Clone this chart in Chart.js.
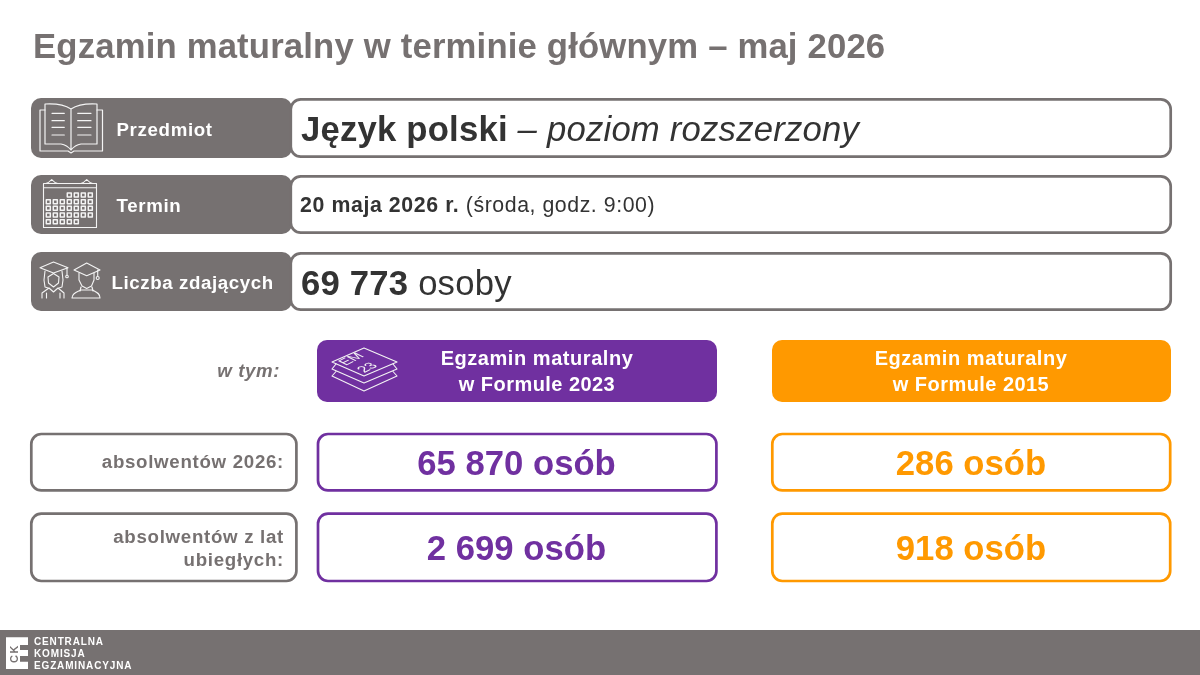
<!DOCTYPE html>
<html lang="pl"><head><meta charset="utf-8">
<style>html,body{margin:0;padding:0;background:#fff}canvas{display:block}</style>
<script src="https://cdn.jsdelivr.net/npm/chart.js@4"></script></head>
<body><canvas id="c" width="1200" height="675"></canvas>
<script>
const title = "Egzamin maturalny w terminie głównym – maj 2026";
const rowLabels = ["Przedmiot", "Termin", "Liczba zdających"];
const subjectBold = "Język polski";
const subjectRest = " – poziom rozszerzony";
const dateBold = "20 maja 2026 r.";
const dateRest = " (środa, godz. 9:00)";
const totalTakers = [69773];
const totalUnit = " osoby";
const withinLabel = "w tym:";
const formulas = [["Egzamin maturalny", "w Formule 2023"], ["Egzamin maturalny", "w Formule 2015"]];
const groupLabels = [["absolwentów 2026:"], ["absolwentów z lat", "ubiegłych:"]];
const formula2023 = [65870, 2699];
const formula2015 = [286, 918];
const unit = " osób";
const logoLines = ["CENTRALNA", "KOMISJA", "EGZAMINACYJNA"];
const logoMark = "CK";

const GRAY = "#767171", PURPLE = "#7030A0", ORANGE = "#FF9900", DARK = "#333333", ICON = "#f4f4f4";
const FONT = '"Liberation Sans", Arial, sans-serif';
const fmt = n => String(n).replace(/\B(?=(\d{3})+$)/g, " ");

const slide = {
  id: "slide",
  afterDraw(chart) {
    const g = chart.ctx, X = v => chart.scales.x.getPixelForValue(v), Y = v => chart.scales.y.getPixelForValue(v);
    const box = (x0, y0, x1, y1, r, fill, stroke, lw) => {
      g.beginPath(); g.roundRect(X(x0), Y(y0), X(x1) - X(x0), Y(y1) - Y(y0), r);
      if (fill) { g.fillStyle = fill; g.fill(); }
      if (stroke) { g.strokeStyle = stroke; g.lineWidth = lw || 2.7; g.stroke(); }
    };
    const text = (s, x, y, font, color, align, sp) => {
      g.font = font + " " + FONT; g.fillStyle = color; g.textAlign = align || "left"; g.textBaseline = "alphabetic";
      g.letterSpacing = sp || "0px"; g.fillText(s, X(x), Y(y));
      const w = g.measureText(s).width; g.letterSpacing = "0px"; return w;
    };
    const line = (pts, close) => {
      g.beginPath(); pts.forEach((p, i) => i ? g.lineTo(X(p[0]), Y(p[1])) : g.moveTo(X(p[0]), Y(p[1])));
      if (close) g.closePath(); g.stroke();
    };
    const d = chart.data.datasets;
    const [f23, f15, tot] = [d[0].data, d[1].data, d[2].data];

    text(title, 33, 58, "bold 34.7px", GRAY, "left", "0.17px");

    // top rows
    [[98, 158], [175, 234], [252, 311]].forEach(([a, b]) => {
      box(31, a, 292, b, 10, GRAY);
      box(290.8, a + 1.3, 1170.7, b - 1.3, 10, "#fff", GRAY);
    });
    text(rowLabels[0], 116.5, 136, "bold 18.7px", "#fff", "left", "0.65px");
    text(rowLabels[1], 116.5, 212, "bold 18.7px", "#fff", "left", "0.65px");
    text(rowLabels[2], 111.5, 288.5, "bold 18.7px", "#fff", "left", "0.6px");

    let w = text(subjectBold, 301, 141, "bold 34.7px", DARK, "left", "0.2px");
    text(subjectRest, 301 + w, 141, "italic 34.7px", DARK, "left", "0.2px");
    w = text(dateBold, 300, 212, "bold 21.3px", DARK, "left", "0.6px");
    text(dateRest, 300 + w, 212, "21.3px", DARK, "left", "0.55px");
    w = text(fmt(tot[0]), 301, 295, "bold 34.7px", DARK, "left", "0.2px");
    text(totalUnit, 301 + w, 295, "34.7px", DARK, "left", "0.2px");

    text(withinLabel, 280, 377, "italic bold 18.7px", GRAY, "right", "0.6px");

    // formula headers
    box(317, 340, 717, 402, 10, PURPLE);
    box(772, 340, 1171, 402, 10, ORANGE);
    text(formulas[0][0], 537, 365, "bold 20px", "#fff", "center", "0.55px");
    text(formulas[0][1], 537, 391, "bold 20px", "#fff", "center", "0.45px");
    text(formulas[1][0], 971, 365, "bold 20px", "#fff", "center", "0.55px");
    text(formulas[1][1], 971, 391, "bold 20px", "#fff", "center", "0.45px");

    // result rows
    [[434, 490.4, 475], [513.7, 581, 560]].forEach(([a, b, base], i) => {
      box(31.3, a, 296.4, b, 10, "#fff", GRAY);
      box(318, a, 716.4, b, 10, "#fff", PURPLE);
      box(772.3, a, 1170.2, b, 10, "#fff", ORANGE);
      text(fmt(f23[i]) + unit, 516.5, base, "bold 34.7px", PURPLE, "center");
      text(fmt(f15[i]) + unit, 971, base, "bold 34.7px", ORANGE, "center");
    });
    text(groupLabels[0][0], 284, 468, "bold 18.7px", GRAY, "right", "0.7px");
    text(groupLabels[1][0], 284, 543, "bold 18.7px", GRAY, "right", "0.7px");
    text(groupLabels[1][1], 284, 566, "bold 18.7px", GRAY, "right", "0.7px");

    // footer
    g.fillStyle = GRAY; g.fillRect(X(0), Y(630), X(1200) - X(0), Y(675) - Y(630));
    g.fillStyle = "#fff";
    g.beginPath();
    [[6,637.3],[28,637.3],[28,645],[20,645],[20,650],[28,650],[28,656],[20,656],[20,661.7],[28,661.7],[28,669],[6,669]]
      .forEach((p, i) => i ? g.lineTo(X(p[0]), Y(p[1])) : g.moveTo(X(p[0]), Y(p[1])));
    g.closePath(); g.fill();
    g.save(); g.translate(X(17.5), Y(663)); g.rotate(-Math.PI / 2);
    g.font = "bold 11px " + FONT; g.fillStyle = GRAY; g.textAlign = "left"; g.letterSpacing = "1.5px";
    g.fillText(logoMark, 0, 0); g.letterSpacing = "0px"; g.restore();
    logoLines.forEach((s, i) => text(s, 34, [645, 656.5, 668.5][i], "bold 10px", "#fff", "left", "0.85px"));

    // icons
    g.strokeStyle = ICON; g.lineWidth = 1.2; g.lineJoin = "round"; g.lineCap = "round";
    // book
    line([[45,110],[40,110],[40,151],[68,151],[71,153],[74,151],[102.5,151],[102.5,110],[97,110]]);
    g.beginPath(); g.moveTo(X(71), Y(109)); g.quadraticCurveTo(X(62), Y(103), X(45), Y(104));
    g.lineTo(X(45), Y(144)); g.lineTo(X(61), Y(144)); g.quadraticCurveTo(X(67), Y(145), X(71), Y(150));
    g.quadraticCurveTo(X(75), Y(145), X(81), Y(144)); g.lineTo(X(97), Y(144)); g.lineTo(X(97), Y(104));
    g.quadraticCurveTo(X(80), Y(103), X(71), Y(109)); g.lineTo(X(71), Y(150)); g.stroke();
    [113.3, 120.7, 127.3, 135].forEach(y => { line([[52,y],[64.3,y]]); line([[77.7,y],[91,y]]); });
    // calendar
    g.lineWidth = 1.1;
    line([[43.5,183.5],[96.5,183.5],[96.5,227.5],[43.5,227.5]], true);
    line([[43.5,187.7],[96.5,187.7]]);
    [51.7, 86.7].forEach(cx => {
      g.beginPath(); g.moveTo(X(cx - 6), Y(183.5)); g.quadraticCurveTo(X(cx - 3), Y(183), X(cx), Y(179.5));
      g.quadraticCurveTo(X(cx + 3), Y(183), X(cx + 6), Y(183.5)); g.stroke();
    });
    g.lineWidth = 1.5;
    for (let r = 0; r < 5; r++) for (let c = 0; c < 7; c++) {
      if ((r === 0 && c < 3) || (r === 4 && c > 4)) continue;
      g.strokeRect(X(48.3 + c * 7 - 2), Y(195 + r * 6.67 - 2), 4, 4);
    }
    // graduate, left
    g.lineWidth = 1.1;
    line([[53.5,262],[68,267.7],[53.5,273],[40,267.7]], true);
    line([[67,268],[67,275]]);
    g.beginPath(); g.arc(X(67), Y(276.5), 1.3, 0, 7); g.stroke();
    line([[45,271],[44,280],[45,287],[48,288]]);
    line([[62,271],[63,280],[62,287],[59,288]]);
    line([[48,277],[53.5,273.5],[59,277],[58.5,283],[53.5,287],[48.5,283]], true);
    line([[42,298],[42,293],[49,288],[53.5,292],[58,288],[64,293],[64,298]]);
    line([[46.5,298],[46.5,293]]); line([[60,298],[60,293]]);
    // graduate, right
    line([[86.7,263],[100,270],[86.7,275.7],[74,270]], true);
    line([[97.7,270],[97.7,276]]);
    g.beginPath(); g.arc(X(97.7), Y(278), 1.5, 0, 7); g.stroke();
    line([[79,273],[79,280],[82,286],[86.7,288.5],[91.5,286],[94,280],[94,273]]);
    line([[81,287],[80,291]]); line([[92,287],[93,291]]);
    g.beginPath(); g.moveTo(X(72), Y(298)); g.bezierCurveTo(X(72), Y(293), X(77), Y(292), X(81), Y(290));
    g.lineTo(X(92.5), Y(290)); g.bezierCurveTo(X(96), Y(292), X(100), Y(293), X(100), Y(298));
    g.closePath(); g.stroke();
    // stacked sheets
    g.lineWidth = 1.1;
    line([[332,362],[364,348],[397,362],[364,376]], true);
    line([[336,364],[332,369],[364,383],[397,369],[393,364]]);
    line([[336,371.5],[332,376],[364,391],[397,376],[393,371.5]]);
    g.save(); g.fillStyle = ICON; g.font = "15px " + FONT; g.textAlign = "center"; g.textBaseline = "middle";
    g.setTransform(0.85, -0.42, 0.85, 0.42, X(351.7), Y(359.3)); g.fillText("EM", 0, 0);
    g.setTransform(0.85, -0.42, 0.85, 0.42, X(367.7), Y(367.8)); g.fillText("23", 0, 0);
    g.restore();
  }
};

new Chart(document.getElementById("c"), {
  type: "bar",
  data: {
    labels: groupLabels.map(l => l.join(" ")),
    datasets: [
      { label: formulas[0].join(" "), data: formula2023, hidden: true },
      { label: formulas[1].join(" "), data: formula2015, hidden: true },
      { label: rowLabels[2], data: totalTakers, hidden: true }
    ]
  },
  options: {
    responsive: false, animation: false, devicePixelRatio: 1,
    layout: { padding: 0 },
    plugins: { legend: { display: false }, tooltip: { enabled: false }, title: { display: false } },
    scales: {
      x: { type: "linear", min: 0, max: 1200, display: false, offset: false },
      y: { type: "linear", min: 0, max: 675, reverse: true, display: false }
    }
  },
  plugins: [slide]
});
</script></body></html>
